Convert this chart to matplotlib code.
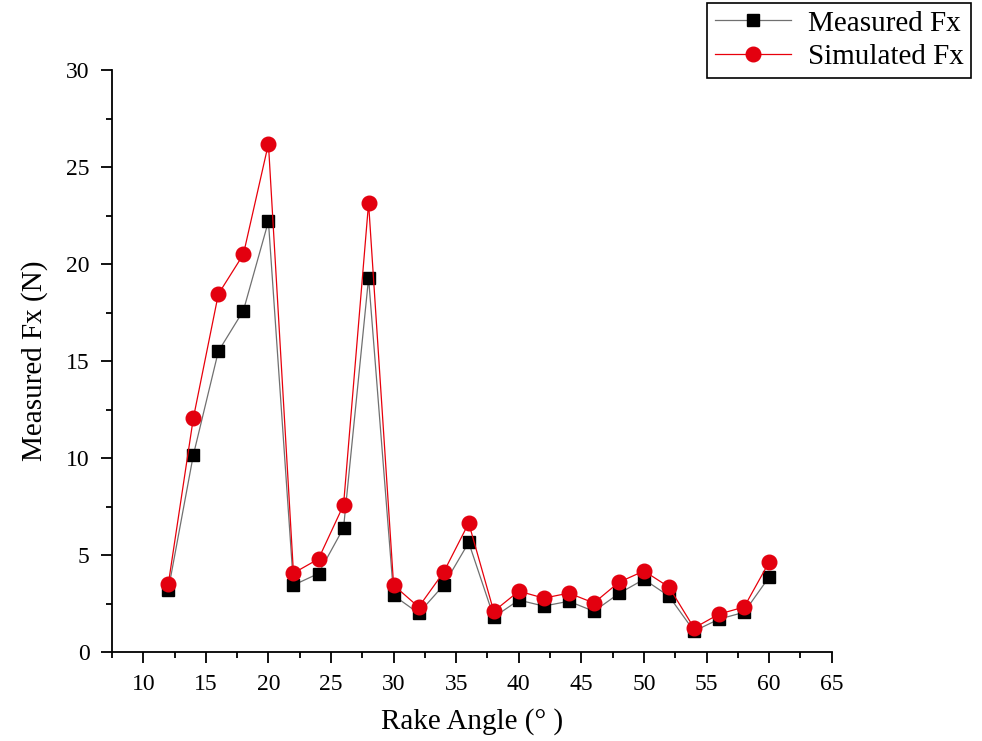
import matplotlib
matplotlib.use("Agg")
import matplotlib.pyplot as plt
from matplotlib.ticker import MultipleLocator

plt.rcParams['font.family'] = ['Liberation Serif', 'DejaVu Serif']

rake_angle = [12, 14, 16, 18, 20, 22, 24, 26, 28, 30, 32, 34, 36, 38, 40,
              42, 44, 46, 48, 50, 52, 54, 56, 58, 60]
measured_fx = [3.2, 10.15, 15.5, 17.6, 22.2, 3.45, 4.05, 6.4, 19.28, 2.92,
               2.0, 3.45, 5.65, 1.8, 2.68, 2.37, 2.62, 2.1, 3.02, 3.75,
               2.88, 1.08, 1.7, 2.05, 3.87]
simulated_fx = [3.5, 12.05, 18.45, 20.5, 26.2, 4.07, 4.8, 7.58, 23.14, 3.45,
                2.32, 4.12, 6.65, 2.1, 3.14, 2.78, 3.04, 2.53, 3.6, 4.18,
                3.35, 1.24, 1.96, 2.32, 4.64]

fig = plt.figure(figsize=(9.82, 7.41), dpi=100)
ax = fig.add_axes([0.114, 0.12, 0.733, 0.7855])

ax.plot(rake_angle, measured_fx, color='#707070', lw=0.9, marker='s',
        markersize=9, markerfacecolor='black', markeredgecolor='black',
        label='Measured Fx')
ax.plot(rake_angle, simulated_fx, color='#e8000b', lw=0.9, marker='o',
        markersize=10.5, markerfacecolor='#e3000f', markeredgecolor='#e3000f',
        label='Simulated Fx')

ax.set_xlim(7.5, 65)
ax.set_ylim(0, 30)
ax.xaxis.set_major_locator(MultipleLocator(5))
ax.xaxis.set_minor_locator(MultipleLocator(2.5))
ax.yaxis.set_major_locator(MultipleLocator(5))
ax.yaxis.set_minor_locator(MultipleLocator(2.5))

for s in ['top', 'right']:
    ax.spines[s].set_visible(False)
for s in ['left', 'bottom']:
    ax.spines[s].set_linewidth(1.3)

ax.tick_params(which='major', direction='out', length=8, width=1.3,
               labelsize=17, pad=8)
ax.tick_params(which='minor', direction='out', length=4.5, width=1.3)

ax.set_xlabel('Rake Angle (° )', fontsize=21, labelpad=9)
ax.set_ylabel('Measured Fx (N)', fontsize=21, labelpad=13)

leg = fig.legend(loc='upper right', bbox_to_anchor=(0.989, 0.996),
                 fontsize=21, frameon=True, fancybox=False, framealpha=1,
                 edgecolor='black', handlelength=2.6, borderpad=0.25,
                 labelspacing=0.25, handletextpad=0.6, borderaxespad=0)
leg.get_frame().set_linewidth(1.2)

fig.savefig('out.png', dpi=100)
